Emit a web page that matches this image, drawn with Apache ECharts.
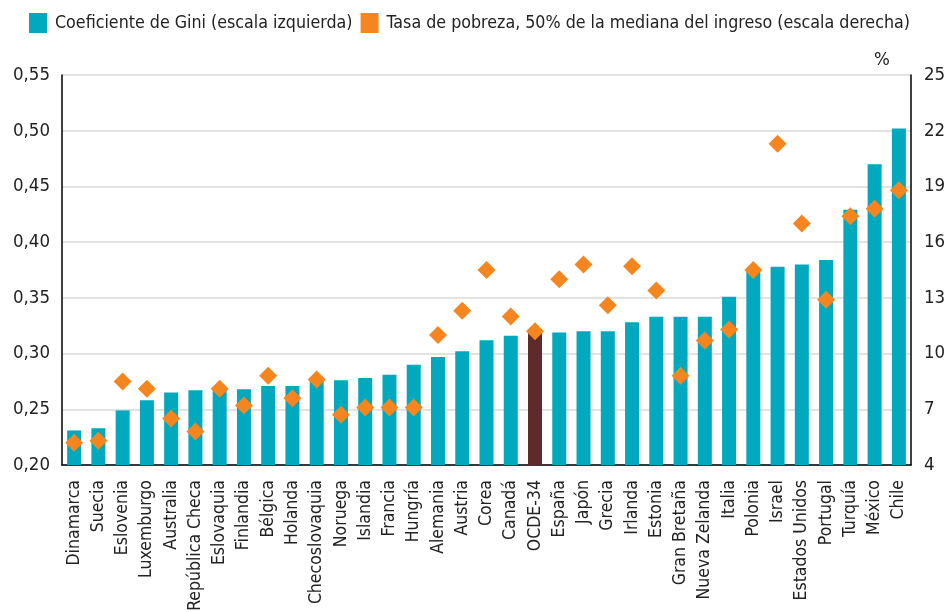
<!DOCTYPE html>
<html>
<head>
<meta charset="utf-8">
<script src="https://cdn.jsdelivr.net/npm/echarts@6/dist/echarts.min.js"></script>
<style>
html,body{margin:0;padding:0;background:#fff;}
#chart{width:949px;height:612px;}
</style>
</head>
<body>
<div id="chart"></div>
<script>
const categories = ["Dinamarca","Suecia","Eslovenia","Luxemburgo","Australia","República Checa","Eslovaquia","Finlandia","Bélgica","Holanda","Checoslovaquia","Noruega","Islandia","Francia","Hungría","Alemania","Austria","Corea","Canadá","OCDE-34","España","Japón","Grecia","Irlanda","Estonia","Gran Bretaña","Nueva Zelanda","Italia","Polonia","Israel","Estados Unidos","Portugal","Turquía","México","Chile"];
const gini = [0.231,0.233,0.249,0.258,0.265,0.267,0.268,0.268,0.271,0.271,0.276,0.276,0.278,0.281,0.290,0.297,0.302,0.312,0.316,0.319,0.319,0.320,0.320,0.328,0.333,0.333,0.333,0.351,0.375,0.378,0.380,0.384,0.429,0.470,0.502];
const poverty = [5.2,5.3,8.5,8.1,6.5,5.8,8.1,7.2,8.8,7.6,8.6,6.7,7.1,7.1,7.1,11.0,12.3,14.5,12.0,11.2,14.0,14.8,12.6,14.7,13.4,8.8,10.7,11.3,14.5,21.3,17.0,12.9,17.4,17.8,18.8];
const leftTicks = {min:0.20, max:0.55, interval:0.05};
const rightTicks = {min:4, max:25, interval:3};
const highlight = "OCDE-34";

const FONT = '"DejaVu Sans Condensed","DejaVu Sans",sans-serif';
const TEAL = '#00a9bd', ORANGE = '#f5861f', BROWN = '#5e2a2b';

const chart = echarts.init(document.getElementById('chart'), null, {renderer:'canvas'});
chart.setOption({
  animation:false,
  textStyle:{fontFamily:FONT},
  legend:{
    left:24, top:8, width:930, itemWidth:18, itemHeight:20, itemGap:8,
    textStyle:{fontFamily:FONT, fontSize:17.7, color:'#222', padding:[0,0,0,3]},
    data:[{name:'Coeficiente de Gini (escala izquierda)', icon:'rect'},
          {name:'Tasa de pobreza, 50% de la mediana del ingreso (escala derecha)', icon:'rect'}]
  },
  grid:{left:62, right:38, top:75, bottom:147, outerBoundsMode:'none', containLabel:false},
  xAxis:{
    type:'category', data:categories,
    axisLine:{lineStyle:{color:'#000', width:1.5}},
    axisTick:{show:false},
    axisLabel:{rotate:90, interval:0, fontFamily:FONT, fontSize:17.5, color:'#222', margin:15}
  },
  yAxis:[{
    type:'value', min:leftTicks.min, max:leftTicks.max, interval:leftTicks.interval, position:'left',
    axisLine:{show:true, lineStyle:{color:'#000', width:1.5}},
    axisTick:{show:false},
    splitLine:{lineStyle:{color:'#d9d9d9', width:1.5}},
    axisLabel:{fontFamily:FONT, fontSize:18.5, color:'#222', margin:12,
      formatter:v=>v.toFixed(2).replace('.',',')}
  },{
    type:'value', min:rightTicks.min, max:rightTicks.max, interval:rightTicks.interval, position:'right',
    name:'%', nameLocation:'end', nameGap:5,
    nameTextStyle:{fontFamily:FONT, fontSize:18.5, color:'#222', padding:[0,58,0,0]},
    axisLine:{show:true, lineStyle:{color:'#000', width:1.5}},
    axisTick:{show:false},
    splitLine:{show:false},
    axisLabel:{fontFamily:FONT, fontSize:18.5, color:'#222', margin:13}
  }],
  series:[{
    name:'Coeficiente de Gini (escala izquierda)', type:'bar', yAxisIndex:0, barWidth:14,
    itemStyle:{color:TEAL},
    data:gini.map((v,i)=>categories[i]===highlight?{value:v,itemStyle:{color:BROWN}}:v)
  },{
    name:'Tasa de pobreza, 50% de la mediana del ingreso (escala derecha)', type:'scatter', yAxisIndex:1,
    symbol:'diamond', symbolSize:[18,18], itemStyle:{color:ORANGE, opacity:1},
    data:poverty
  }]
});
</script>
</body>
</html>
